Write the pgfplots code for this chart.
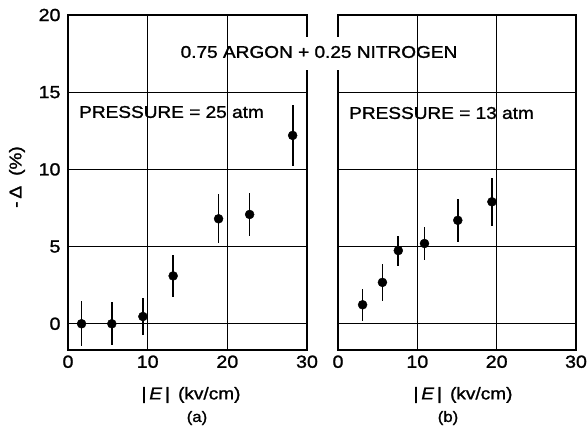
\documentclass[border=0pt]{standalone}
\usepackage{fontspec}
\setmainfont[FakeStretch=1.12, FakeBold=1.3]{Liberation Sans}
\newfontfamily\tickfont[FakeStretch=1.12, FakeBold=1.3]{Liberation Sans}
\usepackage{pgfplots}
\pgfplotsset{compat=1.18}
\pgfplotstableread{
x y e
1.7 0 1.45
5.5 0 1.4
9.4 0.47 1.2
13.2 3.1 1.35
18.9 6.8 1.6
22.8 7.08 1.4
28.2 12.2 2.0
}\dataA
\pgfplotstableread{
x y e
3.1 1.23 1.05
5.6 2.68 1.2
7.6 4.74 0.97
10.9 5.2 1.1
15.1 6.7 1.4
19.4 7.9 1.55
}\dataB
\pgfplotsset{
  panel/.style={
    scale only axis, width=239pt, height=335pt,
    xmin=0, xmax=30, ymin=-1.7, ymax=20,
    xtick={0,10,20,30}, ytick={0,5,10,15,20},
    grid=major, major grid style={black, line width=0.7pt},
    major tick length=0pt,
    axis line style={line width=1.4pt},
    tick label style={font=\tickfont\fontsize{17.5}{19}\selectfont},
    /pgf/number format/assume math mode=true,
    xticklabel style={yshift=-2pt},
    yticklabel style={xshift=-4pt},
  },
  pts/.style={only marks, mark=*, mark size=4.5pt, black, mark options={fill=black, draw=black},
    error bars/.cd, y dir=both, y explicit, error mark=none,
    error bar style={line width=1.7pt, black}},
}
\begin{document}
\begin{tikzpicture}
\useasboundingbox (0pt,0pt) rectangle (588pt,-429pt);
\begin{axis}[panel, at={(68pt,-350pt)}, anchor=south west]
\addplot[pts] table[x=x, y=y, y error=e] {\dataA};
\end{axis}
\begin{axis}[panel, at={(338pt,-350pt)}, anchor=south west, width=238pt, yticklabels={}]
\addplot[pts] table[x=x, y=y, y error=e] {\dataB};
\end{axis}
\fill[white] (303pt,-37pt) rectangle (343pt,-70pt);
\node[font=\fontsize{17}{19}\selectfont] at (319pt,-52pt) {0.75 ARGON + 0.25 NITROGEN};
\node[font=\fontsize{17}{19}\selectfont, anchor=west, inner sep=0pt] at (79pt,-112pt) {PRESSURE = 25 atm};
\node[font=\fontsize{17}{19}\selectfont, anchor=west, inner sep=0pt] at (349pt,-113pt) {PRESSURE = 13 atm};
\node[font=\fontsize{17}{19}\selectfont, rotate=90] at (17pt,-177pt) {-\,Δ\hspace{10pt}(\%)};
\node[font=\fontsize{17}{19}\selectfont] at (191pt,-395pt) {|\,\textit{E}\,|\, (kv/cm)};
\node[font=\fontsize{17}{19}\selectfont] at (463pt,-395pt) {|\,\textit{E}\,|\, (kv/cm)};
\node[font=\fontsize{15}{17}\selectfont] at (197pt,-418pt) {(a)};
\node[font=\fontsize{15}{17}\selectfont] at (448pt,-418pt) {(b)};
\end{tikzpicture}
\end{document}
